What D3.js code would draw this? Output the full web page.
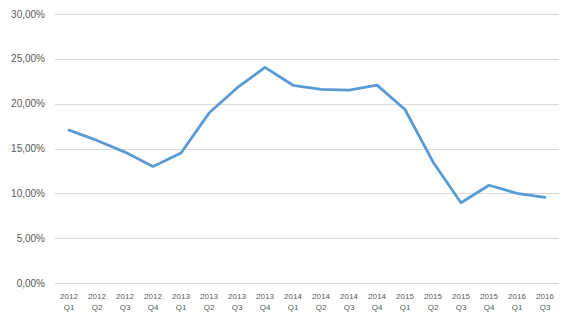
<!DOCTYPE html>
<html>
<head>
<meta charset="utf-8">
<script src="https://cdn.jsdelivr.net/npm/d3@7.9.0/dist/d3.min.js"></script>
<style>
  html, body { margin: 0; padding: 0; background: #fff; }
  svg { display: block; font-family: "Liberation Sans", Arial, sans-serif; }
</style>
</head>
<body>
<svg id="chart" width="574" height="321"></svg>
<script>
const years    = ['2012','2012','2012','2012','2013','2013','2013','2013','2014','2014','2014','2014','2015','2015','2015','2015','2016','2016'];
const quarters = ['Q1','Q2','Q3','Q4','Q1','Q2','Q3','Q4','Q1','Q2','Q3','Q4','Q1','Q2','Q3','Q4','Q1','Q3'];
const rates    = [17.05, 15.9, 14.6, 13.0, 14.5, 18.95, 21.75, 24.05, 22.05, 21.6, 21.5, 22.07, 19.35, 13.5, 8.95, 10.9, 10.0, 9.55];
const yTicks   = [0, 5, 10, 15, 20, 25, 30];

const svg = d3.select('#chart');
const plotL = 55, plotR = 559, plotT = 14, plotB = 283;

const cats = years.map((y,i)=>i);
const x = d3.scaleBand().domain(cats).range([plotL, plotR]);
const y = d3.scaleLinear().domain([0, 30]).range([plotB, plotT]);

const fmt = v => d3.format('.2f')(v).replace('.', ',') + '%';

// gridlines
svg.append('g')
  .selectAll('line')
  .data(yTicks)
  .enter().append('line')
    .attr('x1', plotL).attr('x2', plotR)
    .attr('y1', d => Math.round(y(d)) + 0.5)
    .attr('y2', d => Math.round(y(d)) + 0.5)
    .attr('stroke', '#d9d9d9')
    .attr('stroke-width', 1);

// y labels
svg.append('g')
  .selectAll('text')
  .data(yTicks)
  .enter().append('text')
    .attr('x', 45)
    .attr('y', d => y(d) + 3.5)
    .attr('text-anchor', 'end')
    .attr('font-size', 10)
    .attr('fill', '#595959')
    .text(fmt);

// x labels
const xl = svg.append('g')
  .selectAll('text')
  .data(cats)
  .enter().append('text')
    .attr('text-anchor', 'middle')
    .attr('font-size', 8)
    .attr('fill', '#595959');
xl.append('tspan')
  .attr('x', d => x(d) + x.bandwidth() / 2)
  .attr('y', 299)
  .text(d => years[d]);
xl.append('tspan')
  .attr('x', d => x(d) + x.bandwidth() / 2)
  .attr('y', 310)
  .text(d => quarters[d]);

// line
const line = d3.line()
  .x(d => x(d) + x.bandwidth() / 2)
  .y(d => y(rates[d]));

svg.append('path')
  .datum(cats)
  .attr('d', line)
  .attr('fill', 'none')
  .attr('stroke', '#5b9bd5')
  .attr('stroke-width', 2.8)
  .attr('stroke-linejoin', 'round')
  .attr('stroke-linecap', 'round');
</script>
</body>
</html>
